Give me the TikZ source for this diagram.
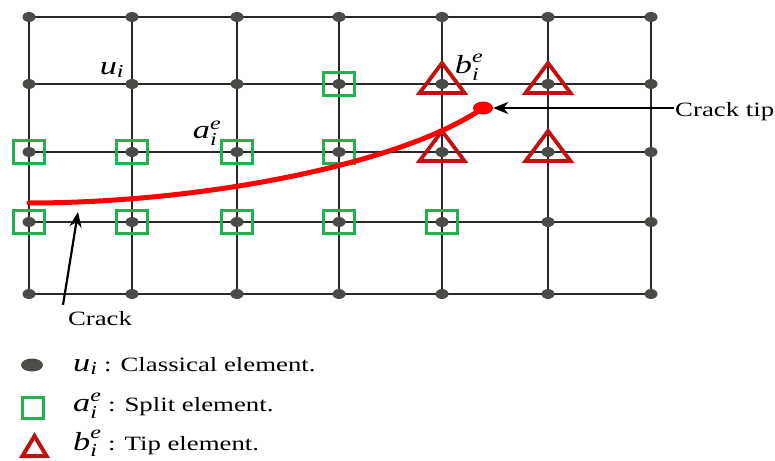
\documentclass[tikz,border=0pt]{standalone}
\usepackage{amsmath}
\usepackage{fontspec}
\setmainfont[FakeStretch=1.32]{Liberation Serif}
\usetikzlibrary{arrows.meta,shapes.geometric}
\definecolor{gridc}{RGB}{40,40,40}
\definecolor{dotc}{RGB}{75,75,72}
\definecolor{splitc}{RGB}{34,177,76}
\definecolor{tipc}{RGB}{192,16,16}
\definecolor{crackc}{RGB}{255,0,0}
\newcommand\mi[1]{\textit{#1}}
\newcommand\txtsize{\fontsize{20.3}{23}\selectfont}
\newcommand\labsize{\fontsize{26}{28}\selectfont}
\tikzset{
  gridline/.style={draw=gridc, line width=2.7pt},
  elemdot/.style={ellipse, fill=dotc, inner sep=0pt, minimum width=13pt, minimum height=10pt},
  splitbox/.style={draw=splitc, line width=2.6pt, inner sep=0pt, minimum width=31pt, minimum height=23pt},
  tipmark/.style={draw=tipc, line width=3.8pt, line join=miter},
  crackline/.style={draw=crackc, line width=5pt, line cap=round},
  pointer/.style={draw=black, line width=2.2pt, -{Stealth[length=15pt,width=12pt,inset=4.5pt]}},
  txt/.style={font=\txtsize, inner sep=0pt},
  mlab/.style={font=\labsize, inner sep=0pt},
}
\begin{document}
\begin{tikzpicture}[x=1pt,y=-1pt]
\useasboundingbox (0,0) rectangle (775,460);
% grid points
\foreach \x [count=\i] in {29,132,237,339,442,548,651}{
  \foreach \y [count=\j] in {17,84,152,222,294}{
    \coordinate (p\i-\j) at (\x,\y);
  }
}
% grid lines
\foreach \i in {1,...,7} \draw[gridline] (p\i-1) -- (p\i-5);
\foreach \j in {1,...,5} \draw[gridline] (p1-\j) -- (p7-\j);
% split elements
\foreach \n in {4-2,1-3,2-3,3-3,4-3,1-4,2-4,3-4,4-4,5-4}
  \node[splitbox] (s\n) at (p\n) {};
% tip elements
\foreach \n in {5-2,6-2,5-3,6-3}
  \draw[tipmark] ([shift={(-22.5,9)}]p\n) -- ([shift={(0,-21)}]p\n) -- ([shift={(22.5,9)}]p\n) -- cycle;
% classical element dots
\foreach \i in {1,...,7}{
  \foreach \j in {1,...,5}{
    \node[elemdot] (n\i-\j) at (p\i-\j) {};
  }
}
% crack
\coordinate (crackstart) at (29,203);
\node[ellipse, fill=crackc, inner sep=0pt, minimum width=20pt, minimum height=13pt] (tipdot) at (483,108) {};
\draw[crackline] (crackstart) .. controls (200,203) and (400,165) .. (tipdot.center);
% labels
\node[mlab] (lu) at (112,70) {$\mi{u}_{\mi{i}}$};
\node[mlab] (la) at (207,133) {$\mi{a}^{\mi{e}}_{\mi{i}}$};
\node[mlab] (lb) at (469,67) {$\mi{b}^{\mi{e}}_{\mi{i}}$};
% crack tip pointer
\node[txt, anchor=base west] (tiptext) at (675,116) {Crack tip};
\coordinate (tipin) at (674,108);
\draw[pointer] (tipin) -- (tipdot.east);
% crack pointer
\node[txt] (cracktext) at (100,319) {Crack};
\coordinate (crackfrom) at (63,305);
\coordinate (crackto) at (78,212);
\draw[pointer] (crackfrom) -- (crackto);
% legend
\node[elemdot, minimum width=22pt, minimum height=13pt] (legdot) at (32,365) {};
\node[splitbox, minimum width=21pt, minimum height=21pt, line width=3pt] (legsq) at (33,408) {};
\coordinate (legtri) at (34.5,446);
\draw[tipmark, line width=4pt] ([shift={(-12,10)}]legtri) -- ([shift={(0,-10)}]legtri) -- ([shift={(12,10)}]legtri) -- cycle;
\node[txt, anchor=base west] (legu) at (73,371) {{\labsize$\mi{u}_{\mi{i}}$} : Classical element.};
\node[txt, anchor=base west] (lega) at (73,411) {{\labsize$\mi{a}^{\mi{e}}_{\mi{i}}$} : Split element.};
\node[txt, anchor=base west] (legb) at (73,450) {{\labsize$\mi{b}^{\mi{e}}_{\mi{i}}$} : Tip element.};
\end{tikzpicture}
\end{document}
